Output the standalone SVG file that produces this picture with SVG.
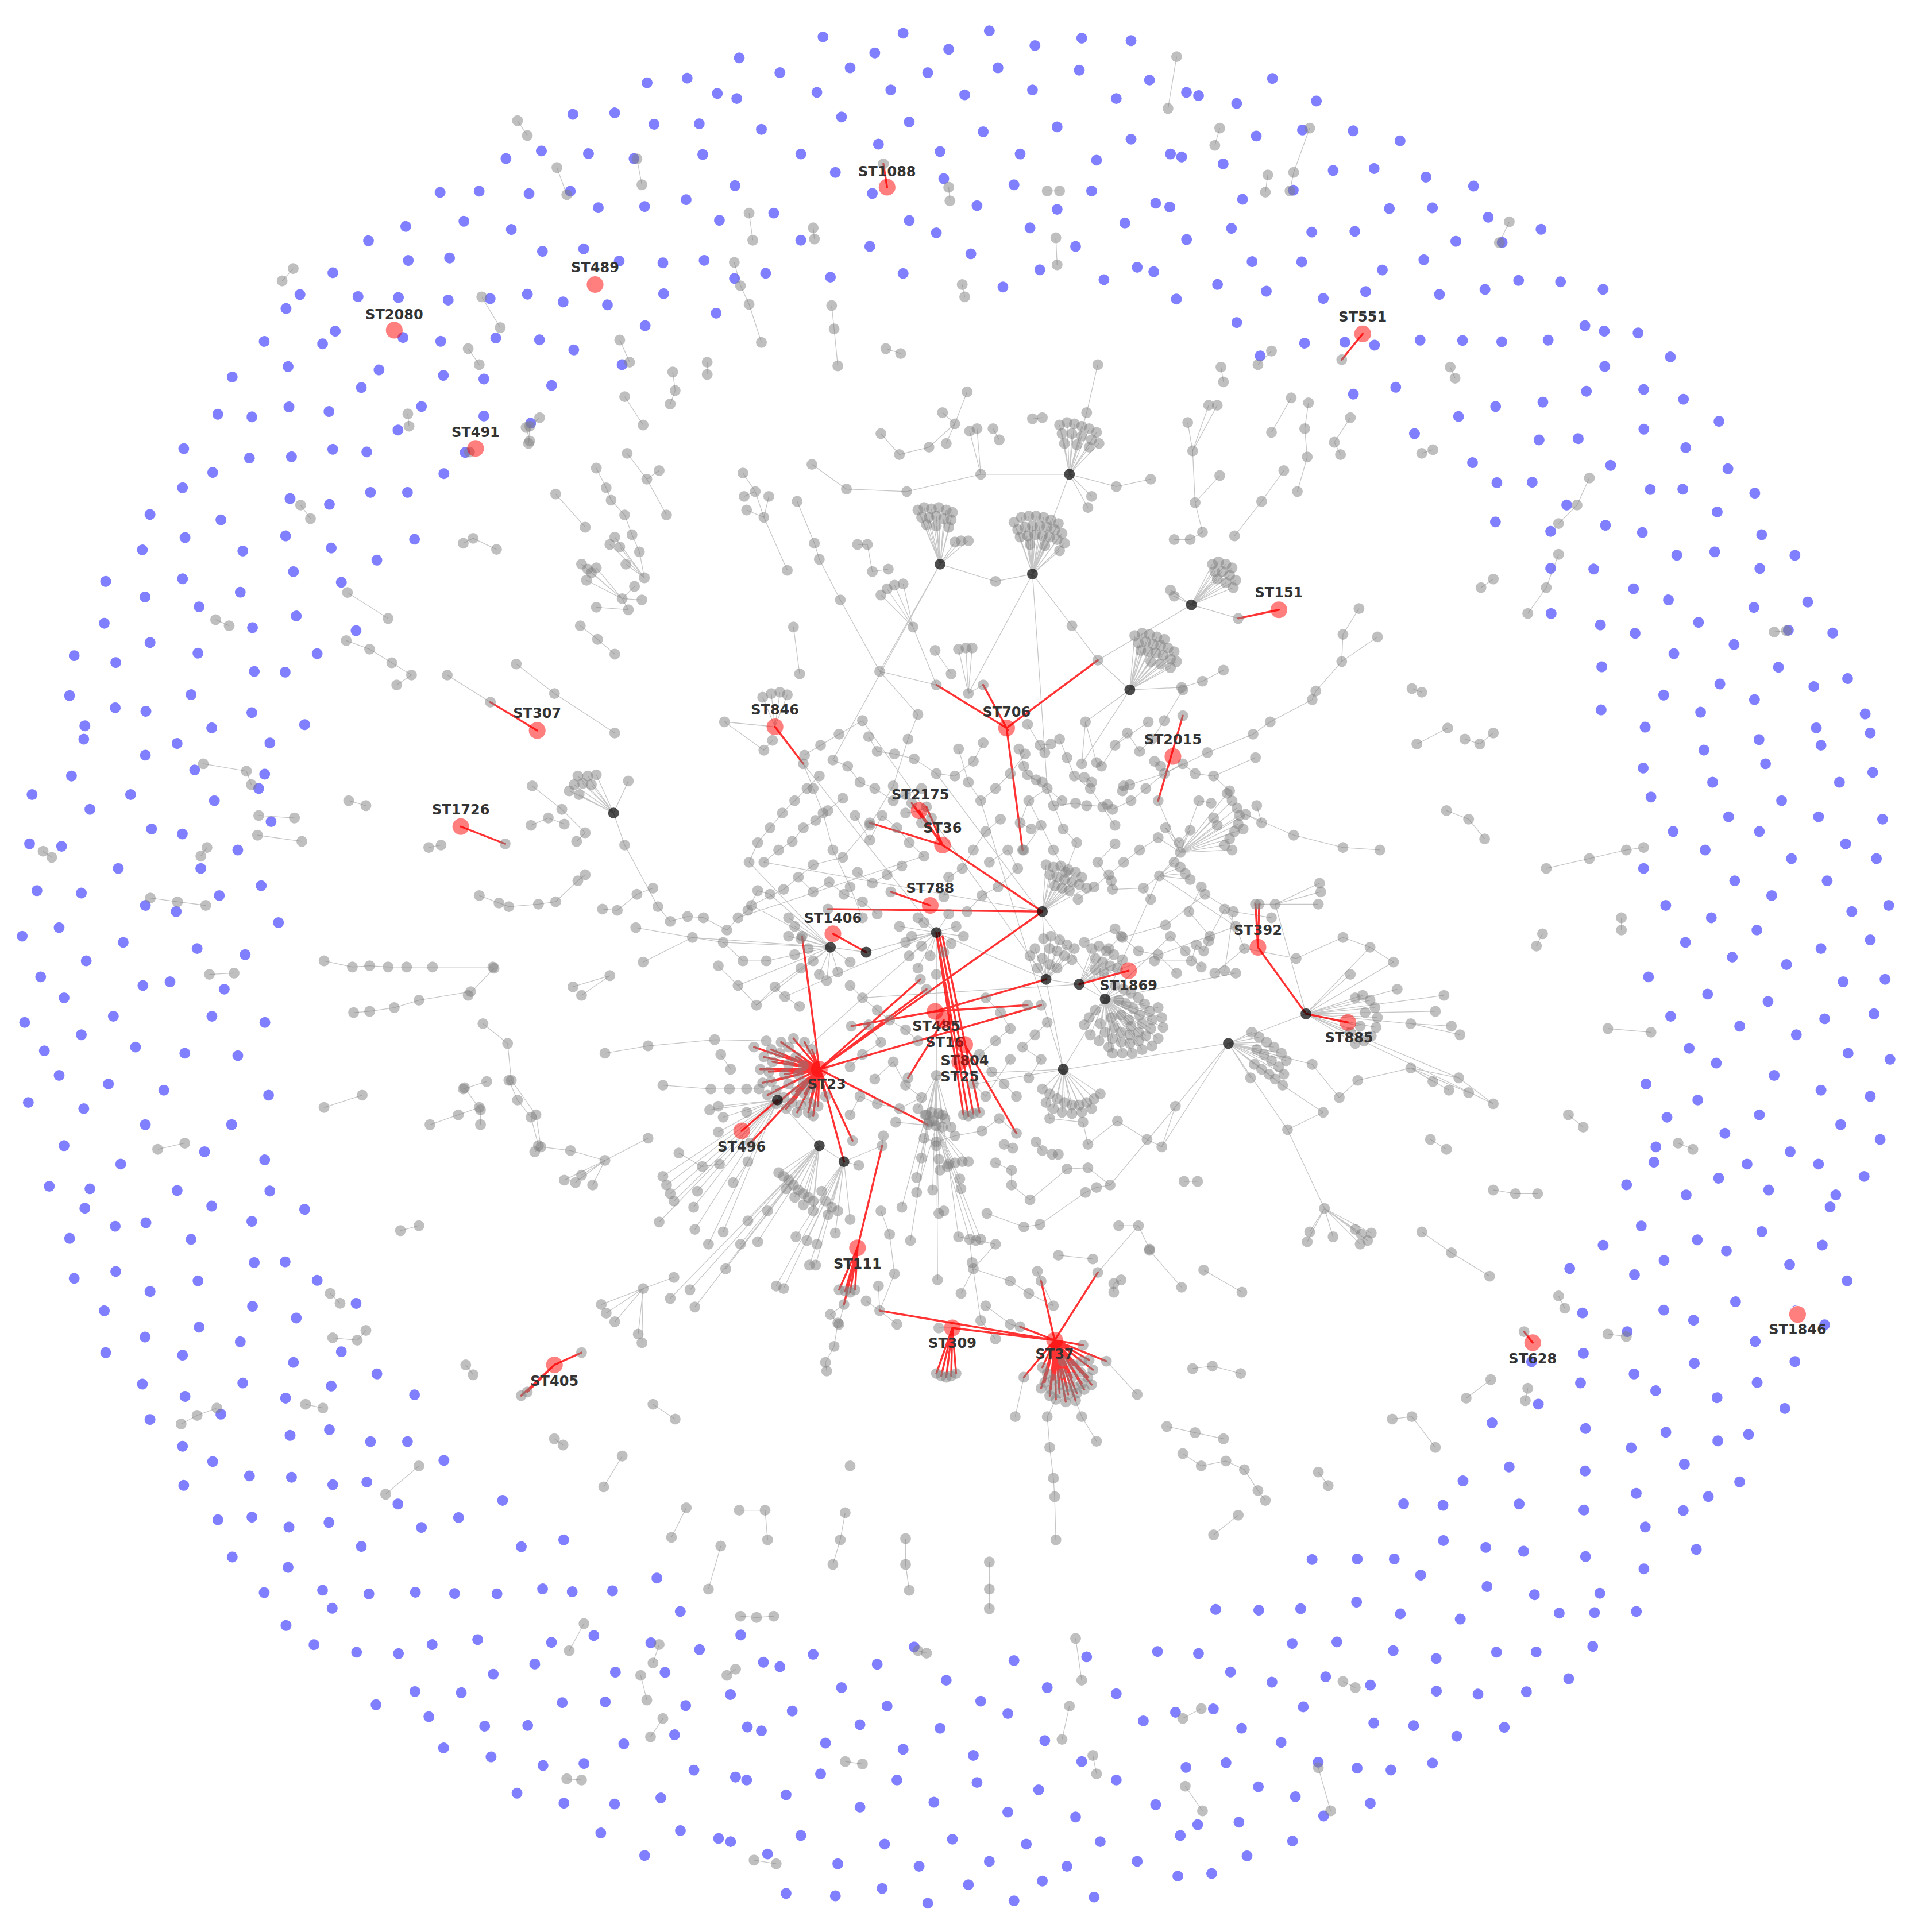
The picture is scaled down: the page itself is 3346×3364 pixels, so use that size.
<svg xmlns="http://www.w3.org/2000/svg" xmlns:xlink="http://www.w3.org/1999/xlink" width="3346" height="3364" viewBox="0 0 3346 3364">
<style>
.e{fill:none;stroke:#808080;stroke-opacity:.45;stroke-width:.6}
.c{fill:none;stroke:#808080;stroke-opacity:.45;stroke-width:.6;marker-start:url(#m);marker-mid:url(#m);marker-end:url(#m)}
.v{fill:none;stroke:none;marker-start:url(#m);marker-mid:url(#m);marker-end:url(#m)}
.vd{fill:none;stroke:none;marker-start:url(#md);marker-mid:url(#md);marker-end:url(#md)}
.r{fill:none;stroke:#f00;stroke-opacity:.8;stroke-width:1.6;stroke-linecap:round}
.n{fill:#f00;fill-opacity:.5}
.t{font-family:"DejaVu Sans","Liberation Sans",sans-serif;font-weight:700;font-size:11.2px;fill:#333;text-anchor:middle}
</style>
<defs>
<marker id="m" markerUnits="userSpaceOnUse" viewBox="-5 -5 10 10" markerWidth="10" markerHeight="10" overflow="visible"><circle r="4.4" fill="#808080" fill-opacity=".5"/></marker>
<marker id="mb" markerUnits="userSpaceOnUse" viewBox="-5 -5 10 10" markerWidth="10" markerHeight="10" overflow="visible"><circle r="4.4" fill="#00f" fill-opacity=".5"/></marker>
<marker id="md" markerUnits="userSpaceOnUse" viewBox="-5 -5 10 10" markerWidth="10" markerHeight="10" overflow="visible"><circle r="4.4" fill="#000" fill-opacity=".7"/></marker>
<path id="A" fill="none" stroke="none" marker-start="url(#mb)" marker-mid="url(#mb)" marker-end="url(#mb)" d="M562 -138 580 -110 556 -80 574 -50 590 -20 560 8 578 40 593 66 558 95 575 122 566 146 612 -150 625 -122 606 -95 630 -70 611 -40 628 -8 608 22 634 48 615 78 600 108 622 135 640 160 655 -165 668 -135 650 -110 676 -88 660 -58 648 -30 672 -2 657 28 680 55 662 88 650 120 675 150 700 -180 715 -150 698 -122 720 -100 705 -70 725 -45 700 -15 718 12 703 42 722 70 700 100 716 128 698 160 712 185 740 -190 742 -158 750 -120 745 -88 755 -50 740 -22 752 10 743 38 756 75 740 105 748 140 735 170"/>
<path id="B" fill="none" stroke="none" marker-start="url(#mb)" marker-mid="url(#mb)" marker-end="url(#mb)" d="M568 -145 558 -118 585 -95 566 -66 552 -36 579 -10 596 18 563 45 585 72 560 104 590 128 620 -160 604 -135 630 -108 615 -80 600 -58 635 -45 618 -15 640 12 606 40 628 70 645 100 612 150 660 -172 672 -140 655 -112 682 -80 660 -50 678 -20 662 15 686 40 668 65 690 95 660 128 680 160 710 -185 720 -155 705 -128 728 -98 712 -60 730 -32 708 -5 726 25 712 55 730 88 710 115 726 145 705 180 752 -140 754 -100 748 -62 760 -25 745 8 758 45 742 68 755 110 738 178"/>
</defs>
<rect width="3346" height="3364" fill="#fff"/>
<g transform="scale(2.1449)">
<g id="connectors">
<path class="e" d="M860 345 868 385 866 343M872 344 868 385 878 346M884 348 868 385 890 351M862 352 868 385 870 352M878 354 868 385 886 357M892 360 868 385 864 360M874 361 868 385 884 363M868 385 882 335M868 385 906 395M886 403 868 385 883 412M868 385 796 385M868 385 838 466
M745 414 763 458 750 412M756 413 763 458 762 412M768 414 763 458 773 416M748 420 763 458 754 420M760 419 763 458 766 421M772 422 763 458 752 426M760 427 763 458 770 428M780 439 763 458 786 439M775 440 763 458 714 545M763 458 808 472 838 466M763 458 676 617
M823 424 838 466 829 420M835 419 838 466 841 419M847 420 838 466 853 422M859 425 838 466 826 430M832 428 838 466 838 427M844 427 838 466 850 428M856 430 838 466 862 433M828 436 838 466 834 435M840 434 838 466 846 435M852 436 838 466 858 438M864 441 838 466 836 442M848 443 838 466 860 447M786 563 838 466 850 640M838 466 870 508
M921 516 917 560 927 514M933 515 917 560 939 517M945 519 917 560 924 522M930 521 917 560 936 523M942 524 917 560 948 526M953 529 917 560 926 528M932 529 917 560 938 530M944 532 917 560 950 535M955 537 917 560 934 537M942 539 917 560 950 542M881 586 917 560 878 620M891 536 917 560 959 558 976 553M891 536 967 491
M984 458 967 491 989 456M995 458 967 491 1000 461M986 464 967 491 992 464M998 467 967 491 1003 471M988 470 967 491 995 473M1001 477 967 491 950 479M953 484 967 491 1005 502
M462 642 498 660 466 637M469 630 498 660 473 636M477 630 498 660 484 629M480 637 498 660 470 645M510 634 498 660 507 686 534 736
M499 436 523 469 495 442M503 444 523 469 508 458M472 458 505 486 477 462M484 461 505 486 476 471M480 465 505 486 515 476M521 487 505 486 510 495
M715 483 741 509 720 478M726 475 741 509 733 474M741 509 760 556 714 545M778 527 786 563 784 526M789 526 786 563 798 556
M640 745 674 769 645 752M640 760 674 769 650 762M656 770 674 769 660 780M650 786 674 769 645 775M665 791 674 769 671 796M680 789 674 769 690 781M562 761 674 769 587 765M622 780 674 769 599 800M614 816 674 769 629 801M610 735 674 769 625 726M674 769 703 773 760 757M562 761 587 765M522 781 562 761
M745 745 760 757 750 749M740 760 760 757 748 768M755 776 760 757 766 773M772 766 760 757 776 752M770 742 760 757 782 760M738 776 760 757 745 786M760 791 760 757 730 752M735 765 760 757 760 873M760 757 849 795
M847 762 849 795 853 760M860 763 849 795 866 767M852 770 849 795 858 772M864 776 849 795 870 779M846 778 849 795 852 783M858 786 849 795 872 770M840 770 849 795 842 786M836 776 849 795 846 740M849 795 876 799 897 811
M905 800 897 811 912 803M918 806 897 811 924 810M929 815 897 811 933 821M935 828 897 811 934 835M930 841 897 811 924 845M917 847 897 811 910 846M903 843 897 811 897 838M893 831 897 811 908 812M914 815 897 811 920 819M925 824 897 811 927 831M924 838 897 811 917 840M910 838 897 811 904 834M902 826 897 811 910 824M916 828 897 811 918 833M889 820 897 811 884 826M880 832 897 811 885 840M892 845 897 811 900 850M940 818 897 811 943 826M944 834 897 811 940 843M935 849 897 811 927 852M919 855 897 811 911 855M903 855 897 811 863 868 849 795M863 868 760 873
M1016 838 997 847 1022 842M1028 846 997 847 1034 850M1040 855 997 847 1044 861M1020 852 997 847 1026 856M1032 861 997 847 1038 866M1042 872 997 847 1018 864M1024 868 997 847 1030 872M1035 876 997 847 1015 875M997 847 1060 823M1041 881 997 847 1065 864M1045 917 997 847
M846 884 863 868 852 888M858 892 863 868 864 895M870 897 863 868 876 897M882 895 863 868 888 892M893 888 863 868 855 900M862 903 863 868 870 904M878 903 863 868 886 900
M538 955 631 893 541 962M544 969 631 893 547 975M566 967 631 893 563 980M535 992 631 893 575 1010M587 1000 631 893 564 998M576 901 631 893 583 898M587 907 631 893 606 903M583 919 631 893
M632 952 665 930 636 955M640 958 665 930 644 962M648 966 665 930 652 969M656 972 665 930 660 975M638 965 665 930 645 972M652 978 665 930 660 983M607 991 665 930 615 1008M623 983 665 930 601 1010M589 1030 665 930 560 1047M564 1061 665 930 544 1054
M667 967 685 943 670 975M675 980 685 943 680 983M672 986 685 943 646 1004M655 1007 685 943 663 1010M657 1027 685 943 662 1027M630 1044 685 943 636 1046M678 1001 685 943 690 990M716 930 685 943 665 930 631 893
M745 900 760 873 752 905M758 910 760 873 765 905M772 915 760 873 760 930M748 940 760 873 770 945M757 966 760 873 744 956M739 1007 760 873 761 1039M778 1004 760 873 732 980
M1100 998 1075 981 1105 1002M1110 1007 1075 981 1113 1001M1104 1010 1075 981 1063 1000M1061 1008 1075 981 1082 1004M1075 981 1045 917 1074 903
M1100 810 1060 823 1106 808M1112 812 1060 823 1116 818M1118 826 1060 823 1117 834M1113 841 1060 823 1107 845M1100 847 1060 823 1108 822M1104 833 1060 823 1096 838M1131 781 1060 823 1134 803M1096 791 1060 823 1145 831M1172 808 1060 823 1165 821M1112 769 1060 823 1035 734M1112 769 1131 781M1178 833 1145 831 1185 840
M1176 885 1145 867 1184 875M1192 887 1145 867 1163 878M1145 867 1102 877 1087 891M1184 875 1212 896M1184 875 1060 823
M488 1059 522 1046 492 1066M499 1073 522 1046 547 1037M518 1083 522 1046 521 1090
M996 644 958 692 1000 650M1004 656 958 692 1006 662M1005 669 958 692 1002 675M998 681 958 692 994 686M1000 690 958 692 1009 673M1011 661 958 692 988 670M958 692 940 680M940 650 958 692 941 711M1011 661 1050 678 1090 688 1120 690
M953 700 941 711 958 704M962 709 941 711 966 714M941 711 897 811M941 711 1003 752
M1019 734 1035 734 1022 734M1072 724 1035 734 1070 734M1035 734 1060 823
M619 566 629 590 626 563M633 562 629 590 639 564M588 586 629 590M735 660 746 658 748 668M740 652 746 658 756 664M752 655 746 658
M787 350 796 385 793 348M765 335 775 344 768 360M604 403 613 399M624 403 620 420 606 414M981 329 968 366 988 329M970 408 990 386M1118 517 1089 537M535 382 525 389M985 630 1019 615M980 611 945 628M468 683 475 676M491 942 481 962M472 954 491 942 467 960M458 958 491 942M434 935 439 931M857 1136 850 1150M873 1137 878 1150M820 1075 828 1077M855 1060 845 1040M835 1050 820 1040M808 1010 778 1004M780 1050 790 1030M726 1034 714 1064M1010 770 1052 778M1003 790 897 811
M599 745 750 695M652 620 760 757M700 585 849 795M620 700 846 740M760 628 897 811M796 650 863 868M700 810 876 799M640 864 760 757M790 880 997 847M950 760 897 811M1003 752 876 799M637 809 760 757M608 700 674 769M1212 896 1060 823
M881 586 890 619M932 586 905 605M848 611 844 605M849 702 846 740 855 704M861 703 846 740 867 706M873 708 846 740 878 712M852 710 846 740 858 712M864 714 846 740 870 716M876 718 846 740 882 721M856 719 846 740 862 721M868 723 846 740M886 770 876 799 892 768M898 772 876 799 904 775M889 778 876 799 895 781M901 784 876 799 907 786M911 779 876 799 896 789M889 787 876 799M751 905 760 914 756 903M762 904 760 914 767 908M754 911 760 914 765 915M760 914 763 941M760 914 779 957M760 914 780 965M760 914 762 985 766 983M760 914 744 968M769 947 760 914 775 944M781 943 760 914 786 943M727 911 760 914M717 922 716 930M697 946 685 943M787 1006 760 914 792 1007M796 1006 760 914M762 1078 773 1078M728 1075 714 1064M681 1075 685 1059M703 1056 714 1064 713 1044M808 1087 796 1072M842 1032 845 1040M904 1049 904 1042M954 898 943 931M985 664 958 692M966 674 958 692M946 672 958 692M928 721 941 711M978 726 1001 740M811 908 825 920M836 974 866 949M844 994 881 968M883 948 901 962M901 962 997 847M891 1033 924 995M849 895 863 868M883 929 907 910M943 931 997 847M973 650 958 692M1024 668 1011 661M855 654 850 640M903 657 918 650M874 684 865 708M863 673 850 640M834 629 850 640M917 637 945 628M894 622 905 605M828 668 835 650M831 690 845 670"/>
<path class="r" d="M720 152 717 133M1106 271 1089 292M1038 495 1005 502M436 593 398 570M629 590 652 620M760 556 817 591 798 556M891 536 817 591 830 690M960 581 940 650M746 658 765 686 740 652M752 655 765 686 706 668M765 686 846 740M374 671 410 685M672 738 846 740M723 724 755 735M676 758 703 773M916 788 876 799M1019 734 1021 769 1060 823 1094 830M1022 734 1021 769M691 833 759 821 834 816M759 821 849 795M766 828 737 875M760 757 782 905M760 757 786 906M762 757 790 904M765 760 795 903M783 848 825 920M651 760 665 868 846 740M747 795 665 868 752 803M845 816 665 868 753 913M685 943 665 868 692 926M660 906 665 868 612 850M609 928 665 868M602 918 631 893M716 930 696 1013 681 1047M686 1048 696 1013 690 1049M694 1047 696 1013 685 1059M714 1064 856 1088 773 1078 760 1115M764 1117 773 1078 768 1118M772 1117 773 1078 776 1115M891 1033 856 1088 845 1040M828 1077 856 1088 879 1092M898 1105 856 1088 831 1118M472 1098 450 1108 423 1133M428 1130 450 1108M1244 1090 1237 1081
M640 850 665 868 633 855M627 862 665 868 624 870M626 878 665 868 630 885M636 891 665 868 643 895M650 897 665 868 657 895M646 858 665 868 640 864M637 872 665 868 640 880M646 886 665 868 653 888M652 865 665 868 648 872M652 879 665 868 658 883M620 858 665 868 617 868M619 879 665 868 623 889M630 896 665 868 638 900M647 903 665 868 656 903M664 898 665 868 670 890M634 846 665 868 626 852M644 843 665 868 653 846M659 852 665 868
M846 1110 856 1088 850 1115M855 1120 856 1088 860 1124M866 1126 856 1088 872 1126M878 1123 856 1088 883 1118M887 1112 856 1088 884 1104M848 1122 856 1088 853 1128M860 1131 856 1088 867 1132M874 1131 856 1088 880 1128M886 1124 856 1088 857 1136M865 1138 856 1088 873 1137M852 1133 856 1088 845 1127M862 1115 856 1088 870 1118M877 1114 856 1088 863 1105M871 1108 856 1088 878 1105"/>
</g>
<g id="ring" transform="translate(778 785)">
<use href="#A"/>
<use href="#B" transform="rotate(30)"/>
<use href="#A" transform="rotate(60) scale(1 -1)"/>
<use href="#B" transform="rotate(90) scale(1 -1)"/>
<use href="#B" transform="rotate(120)"/>
<use href="#A" transform="rotate(150)"/>
<use href="#B" transform="rotate(180) scale(1 -1)"/>
<use href="#A" transform="rotate(210) scale(1 -1)"/>
<use href="#A" transform="rotate(240)"/>
<use href="#B" transform="rotate(270) scale(1 -1)"/>
<use href="#B" transform="rotate(300)"/>
<use href="#A" transform="rotate(330) scale(1 -1)"/>
</g>
<g id="components">
<path class="c" d="M229 228 238 218M331 336 332 346M380 283 389 296M391 241 406 266M427 347 430 358M420 98 428 110M452 136 460 158M517 129 521 150M503 276 511 294M546 302 548 317 544 328M574 294 574 304M507 322 522 345M438 339 430 346 429 360M509 368 525 389 541 418M484 380 492 396 496 406 507 418 513 434 519 448 523 469M451 401 475 428M484 493 510 495M471 508 485 519 499 531M608 173 611 195M596 213 601 232 608 247 618 278M660 185 661 194M675 248 677 267 680 297M719 283 731 287M770 152 771 163M781 231 783 241M850 155 860 155M857 193 858 215M955 46 948 88M990 104 986 118M1063 104 1050 140 1047 155M1029 142 1027 156M991 298 993 310M1021 296 1032 285M1048 323 1032 351M1062 327 1059 348 1061 371 1053 399M1096 339 1083 359 1088 369M1042 382 1024 407 1002 435M1177 298 1181 307M1154 368 1163 365M964 343 968 366 970 408 976 432 966 438 953 438M1103 494 1090 515 1089 537 1068 561 1065 568 1031 586 1017 596 980 611M1146 559 1154 562M1175 591 1150 604M1189 600 1201 604 1212 595M1174 658 1192 665 1205 681M1202 477 1212 470M1240 498 1255 477 1265 450M1265 425 1280 410 1290 388M1217 197 1225 180
M244 410 252 421M376 441 384 437 403 446M282 481 315 502M281 520 300 527 318 538 334 548 322 556M175 503 186 508M165 620 200 626 204 637M210 662 239 664M209 678 245 683M283 650 297 654M35 691 42 696M122 729 144 732 167 735M163 695 168 688M170 791 190 790M263 780 286 785 300 784 315 785 330 785 351 785 400 785M287 822 300 821 320 818 340 812 382 805M263 899 294 889M128 933 150 928M349 913 372 905 389 899M376 884 395 878M413 877 420 893 431 907 437 930M325 999 340 995M268 1050 276 1058M270 1086 290 1088 297 1080M147 1156 160 1149 176 1143M248 1140 262 1143M313 1213 340 1190M378 1108 384 1116M450 1168 457 1173M490 1207 505 1182M545 1248 557 1224M575 1290 585 1255M601 1312 614 1313 628 1312M686 1228 682 1250 676 1270M735 1249 735 1270 738 1291M803 1268 803 1290 803 1306M745 1340 752 1342M873 1330 878 1364M947 1158 970 1163 993 1168M960 1180 975 1190 995 1186 1010 1193 1021 1210 1027 1218M1005 1230 985 1246M1130 1152 1146 1150 1165 1175M1070 1195 1078 1206M462 1340 474 1318M460 1444 472 1445M530 1350 535 1335M520 1360 525 1380M528 1410 538 1395M590 1360 597 1355M612 1510 630 1513M686 1430 700 1432M868 1385 862 1412M887 1425 890 1440M960 1395 975 1387M962 1450 976 1470M1090 1365 1100 1370M1070 1435 1080 1470M530 1140 548 1152M600 1226 621 1226 623 1250M1190 1135 1210 1120M1305 1083 1320 1085M1240 1127 1238 1137M1265 1052 1270 1062M1154 1000 1178 1017 1209 1036M1212 966 1230 969 1248 969M1273 905 1285 915M1305 835 1340 838M1362 928 1374 933M1247 768 1252 758M1316 745 1316 755M1255 705 1290 697 1320 690 1334 688M1440 513 1450 512M1161 925 1174 933M961 959 972 959M977 1031 1008 1049M933 1015 959 1045M968 1111 984 1109 1007 1115M859 1019 887 1022M904 1042 910 1039
M882 335 891 296M906 395 934 389M603 384 613 399 620 420 639 463M647 407 661 441 665 454 682 487 714 545 745 580 737 600 725 638 706 670 684 696 660 702 636 722 610 735M659 377 687 397 736 399 796 385M715 352 730 369 754 363 775 344 785 318M806 348 811 357M838 340 846 339M696 442 704 442 708 464 721 462M644 509 649 547M588 586 620 609 627 601M652 620 660 640 668 660 676 690 690 720 700 745M653 613 666 605 681 596 700 585M705 598 712 610 726 612 742 616 760 628 775 630 790 618 798 603M778 608 786 635 796 650 808 640 820 628 832 612M812 665 800 675 790 690 781 705 770 712 766 728M803 700 818 690 826 705 810 720 797 727 785 740M748 640 735 645 725 650 710 640 698 635 688 622 676 617M665 630 655 640 645 650 635 660 625 672 615 684 608 700M620 700 632 690 643 683 652 672 662 666 672 658 684 648M694 662 706 682 716 662 728 672 738 684 750 695M732 703 720 710 708 717 696 708M648 712 660 724 673 716 685 726 700 732 712 742M759 528 772 547M870 508 891 536M860 600 866 615 872 630 885 640 895 655 905 670M918 650 930 640 945 628 960 620 970 628 985 630 998 642M940 680 925 690 912 700 900 710 888 720 875 730M865 708 855 690 845 670 835 650 850 640 862 650M905 605 915 595 925 610 935 600 945 585 960 560M881 586 878 620M976 553 993 544
M690 800 700 810 712 820 722 828 735 836 745 845M705 832 715 846 700 856 690 866M710 876 725 862 735 881 748 891 730 900 712 896 698 890 690 905M800 810 812 822 820 835 808 845 795 856 805 870 815 880 825 890M835 875 845 860 830 850 840 840 850 830M820 860 800 890 790 880M900 770 910 760 924 772 940 775 955 790M950 760 962 772 975 785M975 720 965 740 982 760 994 738 1003 752 1010 770 986 790 1003 790M1052 778 1090 761 1112 769M491 855 526 849 580 844 622 845M585 856 593 868M538 881 577 884 592 884 606 884 616 884M551 936 570 947 584 945M595 960 607 943M715 983 722 1002 726 1034M800 1060 820 1075M835 1050 855 1060M820 1040 790 1030 808 1010M850 1150 852 1175 855 1200 856 1215 857 1250M878 1150 890 1170M685 1059 674 1067 680 1074 677 1093 670 1106 671 1113
M389 727 405 733 413 736 437 734 451 732 469 715 475 710M489 738 501 739 517 726 530 721M534 736 544 748 558 744 571 745 590 755 599 745 607 739 615 723 625 726M516 753 562 761M587 765 603 780 622 780M583 784 599 800 614 816 629 801 637 809 649 817M465 801 495 792 472 808M392 831 412 847 415 877 435 905 439 931 463 934 491 942 526 924M377 883 390 901 390 913M380 808 401 786M363 548 398 570M1035 734 1071 717M1065 864 1087 891M1041 881 1074 903M831 1118 824 1150M898 1105 923 1132M419 539 450 563 499 595M432 638 456 657 475 676M431 670 445 664 458 669M348 688 358 686
M834 588 844 605 853 604M827 608 831 622 834 629 841 633 846 635M890 619 894 622M880 631 886 635M911 642 912 638 917 637M855 654 873 652 882 654 899 653 903 657M863 673 874 684M837 673 828 668M905 685 891 700 902 715 903 722 928 721 934 730M946 672 957 684 966 674M937 618 942 622M973 650 983 652M1020 654 1024 668M880 765 905 754 911 761 946 751 978 726M937 780 967 780 971 767 977 772 981 764M994 788 1001 740 1032 745M750 924 760 927 775 922 797 918 811 908M815 929 822 932M808 944 821 950 821 962 836 974M801 985 831 996 844 994M866 949 883 948M883 929 879 911 852 908 849 895M854 937 859 937M846 934 841 927M881 968 890 964 901 962M908 995 924 995 933 1014M907 910 931 925 943 931M787 1006 789 1025 796 1072M762 941 763 950"/>
</g>
<g id="grey-nodes">
<path class="v" d="M860 345 866 343 872 344 878 346 884 348 890 351 862 352 870 352 878 354 886 357 892 360 864 360 874 361 884 363 745 414 750 412 756 413 762 412 768 414 773 416 748 420 754 420 760 419 766 421 772 422 752 426 760 427 770 428 780 439 786 439 775 440 823 424 829 420 835 419 841 419 847 420 853 422 859 425 826 430 832 428 838 427 844 427 850 428 856 430 862 433 828 436 834 435 840 434 846 435 852 436 858 438 864 441 836 442 848 443 860 447 921 516 927 514 933 515 939 517 945 519 924 522 930 521 936 523 942 524 948 526 953 529 926 528 932 529 938 530 944 532 950 535 955 537 934 537 942 539 950 542 984 458 989 456 995 458 1000 461 986 464 992 464 998 467 1003 471 988 470 995 473 1001 477 950 479 953 484 1005 502"/>
<path class="v" d="M462 642 466 637 469 630 473 636 477 630 484 629 480 637 470 645 510 634 507 686 499 436 495 442 503 444 508 458 505 486 472 458 477 462 484 461 476 471 480 465 515 476 521 487 741 509 715 483 720 478 726 475 733 474 760 556 778 527 784 526 789 526 786 563 798 556 640 745 645 752 640 760 650 762 656 770 660 780 650 786 645 775 665 791 671 796 680 789 690 781 522 781 745 745 750 749 740 760 748 768 755 776 766 773 772 766 776 752 770 742 782 760 738 776 745 786 760 791 730 752 735 765 847 762 853 760 860 763 866 767 852 770 858 772 864 776 870 779 846 778 852 783 858 786 872 770 840 770 842 786 836 776"/>
<path class="v" d="M905 800 912 803 918 806 924 810 929 815 933 821 935 828 934 835 930 841 924 845 917 847 910 846 903 843 897 838 893 831 908 812 914 815 920 819 925 824 927 831 924 838 917 840 910 838 904 834 902 826 910 824 916 828 918 833 889 820 884 826 880 832 885 840 892 845 900 850 940 818 943 826 944 834 940 843 935 849 927 852 919 855 911 855 903 855 1016 838 1022 842 1028 846 1034 850 1040 855 1044 861 1020 852 1026 856 1032 861 1038 866 1042 872 1018 864 1024 868 1030 872 1035 876 1015 875 846 884 852 888 858 892 864 895 870 897 876 897 882 895 888 892 893 888 855 900 862 903 870 904 878 903 886 900"/>
<path class="v" d="M538 955 541 962 544 969 547 975 566 967 563 980 535 992 575 1010 587 1000 564 998 576 901 583 898 587 907 606 903 583 919 632 952 636 955 640 958 644 962 648 966 652 969 656 972 660 975 638 965 645 972 652 978 660 983 607 991 615 1008 623 983 601 1010 589 1030 560 1047 564 1061 544 1054 667 967 670 975 675 980 680 983 672 986 646 1004 655 1007 663 1010 657 1027 662 1027 630 1044 636 1046 678 1001 690 990 716 930 760 873 745 900 752 905 758 910 765 905 772 915 760 930 748 940 770 945 757 966 744 956 739 1007 761 1039 778 1004 732 980"/>
<path class="v" d="M1075 981 1100 998 1105 1002 1110 1007 1113 1001 1104 1010 1063 1000 1061 1008 1082 1004 1045 917 1100 810 1106 808 1112 812 1116 818 1118 826 1117 834 1113 841 1107 845 1100 847 1108 822 1104 833 1096 838 1131 781 1134 803 1096 791 1145 831 1172 808 1165 821 1178 833 1185 840 1145 867 1176 885 1184 875 1192 887 1163 878 1102 877 1212 896 522 1046 547 1037 488 1059 492 1066 499 1073 518 1083 521 1090 958 692 996 644 1000 650 1004 656 1006 662 1005 669 1002 675 998 681 994 686 1000 690 1009 673 1011 661 988 670 1050 678 1090 688 1120 690 941 711 953 700 958 704 962 709 966 714 1019 734 1022 734 1072 724 1070 734 619 566 626 563 633 562 639 564 740 652 752 655 748 668 756 664 735 660"/>
<path class="v" d="M787 350 793 348 765 335 768 360 604 403 624 403 606 414 981 329 988 329 990 386 1118 517 535 382 886 403 883 412 959 558 1019 615 468 683 481 962 472 954 467 960 458 958 434 935 808 472 830 690 960 581 940 650 706 668 672 738 723 724 691 833 834 816 737 875 782 905 786 906 790 904 795 903 825 920 651 760 747 795 752 803 845 816 753 913 692 926 660 906 612 850 609 928 681 1047 686 1048 690 1049 694 1047 714 1064 760 1115 764 1117 768 1118 772 1117 776 1115 891 1033 845 1040 828 1077 879 1092 472 1098 423 1133 428 1130 1237 1081 717 133 1089 292 410 685 381 367 690 1190 780 1050"/>
<path class="v" d="M932 586 848 611 831 690 849 702 855 704 861 703 867 706 873 708 878 712 852 710 858 712 864 714 870 716 876 718 882 721 856 719 862 721 868 723 886 770 892 768 898 772 904 775 889 778 895 781 901 784 907 786 911 779 896 789 889 787 751 905 756 903 762 904 767 908 754 911 765 915 760 914 727 911 717 922 697 946 744 968 762 985 766 983 779 957 780 965 769 947 775 944 781 943 786 943 904 1049 954 898 792 1007 796 1006 762 1078 728 1075 681 1075 703 1056 713 1044 808 1087 842 1032 985 664"/>
<path class="v" d="M640 850 633 855 627 862 624 870 626 878 630 885 636 891 643 895 650 897 657 895 646 858 640 864 637 872 640 880 646 886 653 888 652 865 648 872 652 879 658 883 620 858 617 868 619 879 623 889 630 896 638 900 647 903 656 903 664 898 670 890 634 846 626 852 644 843 653 846 659 852 846 1110 850 1115 855 1120 860 1124 866 1126 872 1126 878 1123 883 1118 887 1112 884 1104 848 1122 853 1128 860 1131 867 1132 874 1131 880 1128 886 1124 857 1136 865 1138 873 1137 852 1133 845 1127 862 1115 870 1118 877 1114 863 1105 871 1108 878 1105"/>
</g>
<g id="hubs">
<path class="vd" d="M868 385 763 458 838 466 917 560 967 491 498 660 846 740 760 757 674 769 703 773 849 795 876 799 897 811 997 847 1060 823 863 868 631 893 665 930 685 943"/>
</g>
<g id="ST1088"><circle class="n" cx="720" cy="152" r="6.8"/><text class="t" x="720" y="143">ST1088</text></g>
<g id="ST489"><circle class="n" cx="483" cy="231" r="6.8"/><text class="t" x="483" y="221">ST489</text></g>
<g id="ST2080"><circle class="n" cx="320" cy="268" r="6.8"/><text class="t" x="320" y="259">ST2080</text></g>
<g id="ST491"><circle class="n" cx="386" cy="364" r="6.8"/><text class="t" x="386" y="355">ST491</text></g>
<g id="ST551"><circle class="n" cx="1106" cy="271" r="6.8"/><text class="t" x="1106" y="261">ST551</text></g>
<g id="ST151"><circle class="n" cx="1038" cy="495" r="6.8"/><text class="t" x="1038" y="485">ST151</text></g>
<g id="ST307"><circle class="n" cx="436" cy="593" r="6.8"/><text class="t" x="436" y="583">ST307</text></g>
<g id="ST846"><circle class="n" cx="629" cy="590" r="6.8"/><text class="t" x="629" y="580">ST846</text></g>
<g id="ST706"><circle class="n" cx="817" cy="591" r="6.8"/><text class="t" x="817" y="582">ST706</text></g>
<g id="ST2015"><circle class="n" cx="952" cy="614" r="6.8"/><text class="t" x="952" y="604">ST2015</text></g>
<g id="ST2175"><circle class="n" cx="746" cy="658" r="6.8"/><text class="t" x="747" y="649">ST2175</text></g>
<g id="ST36"><circle class="n" cx="765" cy="686" r="6.8"/><text class="t" x="765" y="676">ST36</text></g>
<g id="ST1726"><circle class="n" cx="374" cy="671" r="6.8"/><text class="t" x="374" y="661">ST1726</text></g>
<g id="ST788"><circle class="n" cx="755" cy="735" r="6.8"/><text class="t" x="755" y="725">ST788</text></g>
<g id="ST1406"><circle class="n" cx="676" cy="758" r="6.8"/><text class="t" x="676" y="749">ST1406</text></g>
<g id="ST392"><circle class="n" cx="1021" cy="769" r="6.8"/><text class="t" x="1021" y="759">ST392</text></g>
<g id="ST1869"><circle class="n" cx="916" cy="788" r="6.8"/><text class="t" x="916" y="804">ST1869</text></g>
<g id="ST885"><circle class="n" cx="1094" cy="830" r="6.8"/><text class="t" x="1095" y="846">ST885</text></g>
<g id="ST485"><circle class="n" cx="759" cy="821" r="6.8"/><text class="t" x="760" y="837">ST485</text></g>
<g id="ST16"><circle class="n" cx="766" cy="828" r="6.8"/><text class="t" x="767" y="850">ST16</text></g>
<g id="ST804"><circle class="n" cx="783" cy="848" r="6.8"/><text class="t" x="783" y="865">ST804</text></g>
<g id="ST25"><circle class="n" cx="779" cy="862" r="6.8"/><text class="t" x="779" y="878">ST25</text></g>
<g id="ST23"><circle class="n" cx="665" cy="868" r="6.8"/><text class="t" x="671" y="884">ST23</text></g>
<g id="ST496"><circle class="n" cx="602" cy="918" r="6.8"/><text class="t" x="602" y="935">ST496</text></g>
<g id="ST111"><circle class="n" cx="696" cy="1013" r="6.8"/><text class="t" x="696" y="1030">ST111</text></g>
<g id="ST309"><circle class="n" cx="773" cy="1078" r="6.8"/><text class="t" x="773" y="1094">ST309</text></g>
<g id="ST37"><circle class="n" cx="856" cy="1088" r="6.8"/><text class="t" x="856" y="1103">ST37</text></g>
<g id="ST405"><circle class="n" cx="450" cy="1108" r="6.8"/><text class="t" x="450" y="1125">ST405</text></g>
<g id="ST628"><circle class="n" cx="1244" cy="1090" r="6.8"/><text class="t" x="1244" y="1107">ST628</text></g>
<g id="ST1846"><circle cx="1459" cy="1067" r="7.2" fill="#fff"/><circle class="n" cx="1459" cy="1067" r="6.8"/><text class="t" x="1459" y="1083">ST1846</text></g>
</g>
</svg>
